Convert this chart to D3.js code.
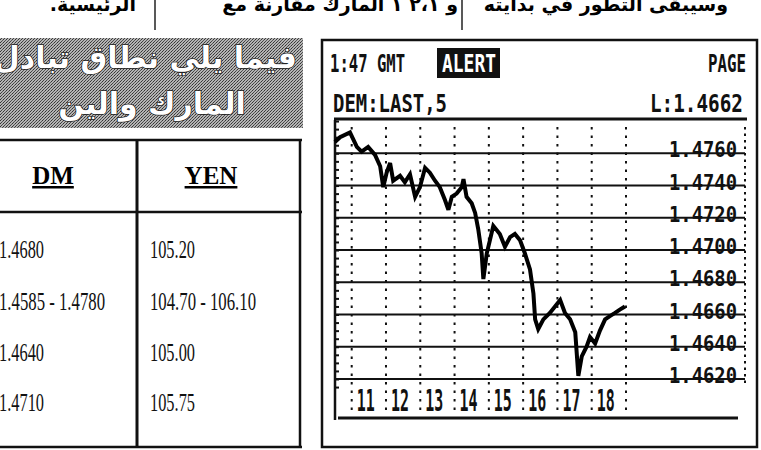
<!DOCTYPE html>
<html>
<head>
<meta charset="utf-8">
<script src="https://cdn.jsdelivr.net/npm/d3@7"></script>
<style>
  body { margin: 0; background: #fff; }
  svg { display: block; }
</style>
</head>
<body>
<script>
// DM intraday chart data (hours GMT, rate)
var hours = [10.51, 10.66, 10.95, 11.15, 11.29, 11.48, 11.68, 11.83, 11.92, 12.02, 12.12, 12.21,
  12.41, 12.55, 12.70, 12.85, 12.99, 13.14, 13.28, 13.43, 13.57, 13.72, 13.82, 13.92, 14.06,
  14.21, 14.26, 14.35, 14.50, 14.60, 14.69, 14.79, 14.84, 14.94, 15.03, 15.13, 15.32, 15.47,
  15.62, 15.76, 15.91, 16.05, 16.20, 16.30, 16.35, 16.44, 16.59, 16.78, 16.93, 17.08, 17.22,
  17.37, 17.52, 17.61, 17.71, 17.85, 17.95, 18.10, 18.24, 18.39, 18.53, 18.68, 18.82, 18.97];
var rates = [1.4767, 1.4770, 1.4773, 1.4764, 1.4761, 1.4764, 1.4759, 1.4752, 1.4739, 1.4748, 1.4754, 1.4743,
  1.4746, 1.4742, 1.4747, 1.4733, 1.4739, 1.4751, 1.4748, 1.4743, 1.4739, 1.4731, 1.4725, 1.4733, 1.4735,
  1.4739, 1.4744, 1.4733, 1.4729, 1.4723, 1.4713, 1.4698, 1.4682, 1.4698, 1.4706, 1.4715, 1.4710, 1.4702,
  1.4708, 1.4710, 1.4706, 1.4698, 1.4688, 1.4673, 1.4657, 1.4651, 1.4657, 1.4661, 1.4665, 1.4669, 1.4661,
  1.4657, 1.4649, 1.4622, 1.4634, 1.4640, 1.4646, 1.4642, 1.4650, 1.4657, 1.4659, 1.4661, 1.4663, 1.4665];
var rateTicks = [1.4760, 1.4740, 1.4720, 1.4700, 1.4680, 1.4660, 1.4640, 1.4620];
var hourTicks = [11, 12, 13, 14, 15, 16, 17, 18, 19];
var hourLabels = ["11", "12", "13", "14", "15", "16", "17", "18"];

// table data
var colHeaders = ["DM", "YEN"];
var dmValues = ["1.4680", "1.4585 - 1.4780", "1.4640", "1.4710"];
var yenValues = ["105.20", "104.70 - 106.10", "105.00", "105.75"];

// arabic texts
var topTexts = ["وسيبقى التطور في بدايته", "و ٢،١ ١ المارك مقارنة مع", "الرئيسية."];
var bannerLines = ["فيما يلي نطاق تبادل الدولار مع", "المارك والين"];

var w = 761, h = 450;
var svg = d3.select("body").append("svg").attr("width", w).attr("height", h);
svg.append("rect").attr("width", w).attr("height", h).attr("fill", "#fff");

var defs = svg.append("defs");
var pat = defs.append("pattern").attr("id", "halftone").attr("width", 3).attr("height", 3)
  .attr("patternUnits", "userSpaceOnUse");
pat.append("rect").attr("width", 3).attr("height", 3).attr("fill", "#b4b4b4");
pat.append("rect").attr("x", 0).attr("y", 0).attr("width", 1).attr("height", 1).attr("fill", "#333");
pat.append("rect").attr("x", 2).attr("y", 1).attr("width", 1).attr("height", 1).attr("fill", "#555");
pat.append("rect").attr("x", 1).attr("y", 2).attr("width", 1).attr("height", 1).attr("fill", "#444");
defs.append("clipPath").attr("id", "bannerClip").append("rect")
  .attr("x", 0).attr("y", 38).attr("width", 303).attr("height", 90);

// ---- top strip of newspaper text (right-to-left, x = right edge)
var topX = [728, 458, 136];
svg.selectAll("text.top").data(topTexts).enter().append("text")
  .attr("class", "top")
  .attr("x", function (d, i) { return topX[i]; })
  .attr("y", 11)
  .attr("text-anchor", "start")
  .attr("direction", "rtl")
  .style("font-family", "DejaVu Sans").style("font-weight", "bold").style("font-size", "19px")
  .text(function (d) { return d; });
[155, 462].forEach(function (x) {
  svg.append("line").attr("x1", x).attr("x2", x).attr("y1", 0).attr("y2", 30)
    .attr("stroke", "#222").attr("stroke-width", 1.5);
});

// ---- banner (first line runs off the left edge of the page)
svg.append("rect").attr("x", 0).attr("y", 38).attr("width", 303).attr("height", 90)
  .attr("fill", "url(#halftone)");
var bannerG = svg.append("g").attr("clip-path", "url(#bannerClip)");
bannerG.selectAll("text").data(bannerLines).enter().append("text")
  .attr("x", function (d, i) { return i === 0 ? 297 : 152; })
  .attr("y", function (d, i) { return i === 0 ? 68 : 114; })
  .attr("text-anchor", function (d, i) { return i === 0 ? "start" : "middle"; })
  .attr("direction", "rtl")
  .attr("fill", "#fff").attr("stroke", "#222").attr("stroke-width", 1.6)
  .style("paint-order", "stroke")
  .style("font-family", "DejaVu Sans").style("font-weight", "bold").style("font-size", "30px")
  .text(function (d) { return d; });

// ---- table
var tbl = svg.append("g");
var tblLines = [
  [0, 140, 302, 140, 2.5], [0, 212, 302, 212, 2.5], [0, 447, 302, 447, 2.5],
  [137, 140, 137, 447, 3], [300, 140, 300, 447, 2.5]
];
tbl.selectAll("line").data(tblLines).enter().append("line")
  .attr("x1", function (d) { return d[0]; }).attr("y1", function (d) { return d[1]; })
  .attr("x2", function (d) { return d[2]; }).attr("y2", function (d) { return d[3]; })
  .attr("stroke", "#111").attr("stroke-width", function (d) { return d[4]; });
var headX = [53, 211];
tbl.selectAll("text.head").data(colHeaders).enter().append("text")
  .attr("class", "head")
  .attr("x", function (d, i) { return headX[i]; }).attr("y", 184)
  .attr("text-anchor", "middle")
  .style("font-family", "Liberation Serif").style("font-weight", "bold").style("font-size", "25px")
  .style("text-decoration", "underline")
  .text(function (d) { return d; });
var rowY = [258, 310, 361, 411];
function cellWidth(s) { return s.length > 8 ? 106 : 45; }
tbl.selectAll("text.dm").data(dmValues).enter().append("text")
  .attr("x", -1).attr("y", function (d, i) { return rowY[i]; })
  .attr("textLength", cellWidth).attr("lengthAdjust", "spacingAndGlyphs")
  .attr("fill", "#111")
  .style("font-family", "Liberation Serif").style("font-size", "25px")
  .text(function (d) { return d; });
tbl.selectAll("text.yen").data(yenValues).enter().append("text")
  .attr("x", 150).attr("y", function (d, i) { return rowY[i]; })
  .attr("textLength", cellWidth).attr("lengthAdjust", "spacingAndGlyphs")
  .attr("fill", "#111")
  .style("font-family", "Liberation Serif").style("font-size", "25px")
  .text(function (d) { return d; });

// ---- chart panel
var mono = "DejaVu Sans Mono";
svg.append("rect").attr("x", 322).attr("y", 40).attr("width", 435).attr("height", 407)
  .attr("fill", "none").attr("stroke", "#111").attr("stroke-width", 2.5);

function termText(txt, x, y, len, size, color) {
  return svg.append("text").attr("x", x).attr("y", y)
    .attr("textLength", len).attr("lengthAdjust", "spacingAndGlyphs")
    .attr("fill", color || "#111")
    .style("font-family", mono).style("font-weight", "bold").style("font-size", size + "px")
    .text(txt);
}
termText("1:47 GMT", 330, 72, 75, 24);
svg.append("rect").attr("x", 437).attr("y", 48).attr("width", 63).attr("height", 30).attr("fill", "#111");
termText("ALERT", 442, 72, 54, 24, "#fff");
termText("PAGE", 708, 72, 38, 24);
termText("DEM:LAST,5", 333, 112, 114, 25);
termText("L:1.4662", 650, 112, 93, 25);

var x = d3.scaleLinear().domain([11, 19]).range([351.7, 626]);
var y = d3.scaleLinear().domain([1.4620, 1.4760]).range([379, 153.3]);

// horizontal grid
svg.append("g").selectAll("line").data(rateTicks).enter().append("line")
  .attr("x1", 335).attr("x2", 745)
  .attr("y1", function (d) { return y(d); }).attr("y2", function (d) { return y(d); })
  .attr("stroke", "#111").attr("stroke-width", 2);

// vertical dotted hour lines
svg.append("g").selectAll("line").data(hourTicks).enter().append("line")
  .attr("x1", function (d) { return x(d); }).attr("x2", function (d) { return x(d); })
  .attr("y1", 127).attr("y2", 412)
  .attr("stroke", "#111").attr("stroke-width", 2).attr("stroke-dasharray", "2.5,6");
svg.append("line").attr("x1", 745).attr("x2", 745).attr("y1", 127).attr("y2", 385)
  .attr("stroke", "#111").attr("stroke-width", 2).attr("stroke-dasharray", "2.5,4");

// left axis with minor ticks
var leftAxis = d3.axisRight(y).tickValues(d3.range(1.4615, 1.4781, 0.0005)).tickSize(4).tickFormat("");
var la = svg.append("g").attr("transform", "translate(335,0)").call(leftAxis);
la.select(".domain").remove();
la.selectAll("line").attr("stroke", "#111").attr("stroke-width", 2);
svg.append("line").attr("x1", 335).attr("x2", 335).attr("y1", 120).attr("y2", 420)
  .attr("stroke", "#111").attr("stroke-width", 2.5);

// top and bottom rules
svg.append("line").attr("x1", 334).attr("x2", 747).attr("y1", 119).attr("y2", 119)
  .attr("stroke", "#111").attr("stroke-width", 3);
svg.append("line").attr("x1", 338).attr("x2", 738).attr("y1", 418).attr("y2", 418)
  .attr("stroke", "#111").attr("stroke-width", 3);

// rate labels
svg.append("g").selectAll("text").data(rateTicks).enter().append("text")
  .attr("x", 669).attr("y", function (d) { return y(d) + 4; })
  .attr("textLength", 68).attr("lengthAdjust", "spacingAndGlyphs")
  .attr("fill", "#111")
  .style("font-family", mono).style("font-weight", "bold").style("font-size", "21px")
  .text(function (d) { return d3.format(".4f")(d); });

// hour labels
svg.append("g").selectAll("text").data(hourLabels).enter().append("text")
  .attr("x", function (d) { return x(+d) + 5; }).attr("y", 411)
  .attr("textLength", 18).attr("lengthAdjust", "spacingAndGlyphs")
  .attr("fill", "#111")
  .style("font-family", mono).style("font-weight", "bold").style("font-size", "30px")
  .text(function (d) { return d; });

// price line
var line = d3.line()
  .x(function (d, i) { return x(hours[i]); })
  .y(function (d) { return y(d); });
svg.append("path").datum(rates)
  .attr("d", line)
  .attr("fill", "none").attr("stroke", "#000").attr("stroke-width", 4)
  .attr("stroke-linejoin", "miter").attr("stroke-miterlimit", 3);
</script>
</body>
</html>
